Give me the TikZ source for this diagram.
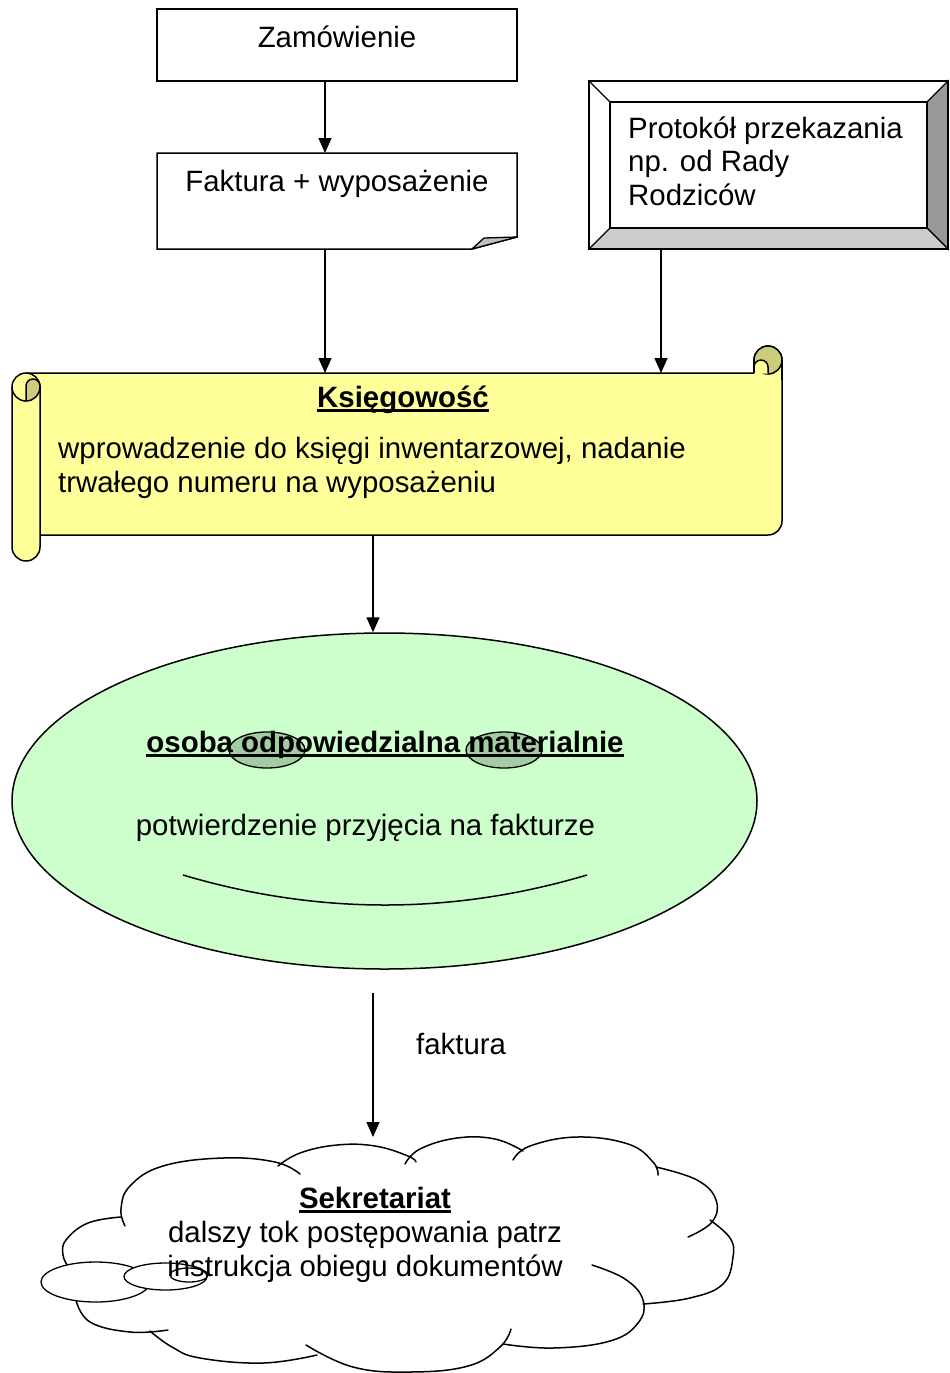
\documentclass[tikz,border=0pt]{standalone}
\usepackage{fontspec}
\setmainfont{Liberation Sans}
\usetikzlibrary{arrows.meta,shapes.geometric}
\definecolor{scrollyel}{HTML}{FFFF99}
\definecolor{scrolldark}{HTML}{CCCC7A}
\definecolor{ovalgreen}{HTML}{CCFFCC}
\definecolor{eyegreen}{HTML}{A3CCA3}
\definecolor{bevdark}{HTML}{999999}
\definecolor{bevlight}{HTML}{CCCCCC}
\definecolor{foldgrey}{HTML}{C0C0C0}
\newcommand{\myul}[1]{\setbox0\hbox{#1}\rlap{\rule[-5pt]{\wd0}{2.8pt}}\box0}
\begin{document}
\begin{tikzpicture}[x=1pt,y=-1pt,
  outl/.style={draw=black, line width=1.5pt},
  thinl/.style={draw=black, line width=1.3pt},
  arr/.style={draw=black, line width=1.4pt, -{Triangle[length=15pt,width=13pt]}},
  txt/.style={font=\fontsize{29.4}{33.5}\selectfont, inner sep=0pt, anchor=base},
  txtl/.style={txt, anchor=base west},
  shapebox/.style={minimum width=#1, inner sep=0pt, outer sep=0pt},
]
\useasboundingbox (0,0) rectangle (950,1373);
\fill[white] (0,0) rectangle (950,1373);

% columns for connectors
\coordinate (c1) at (325,0);
\coordinate (c2) at (661,0);
\coordinate (c3) at (373,0);

% Zamowienie
\node[outl, shapebox=360pt, minimum height=72pt] (zam) at (337,45) {};
\node[txt] (zamt) at (337,47) {Zamówienie};

% Faktura (document shape)
\node[shapebox=360pt, minimum height=96pt] (fak) at (337,201) {};
\draw[outl, line join=miter] (fak.north west) -- (fak.north east) -- ([yshift=12pt]fak.south east)
   -- ([xshift=-45pt]fak.south east) -- (fak.south west) -- cycle;
\draw[thinl, fill=foldgrey, line join=round] ([xshift=-45pt]fak.south east) -- ([xshift=-33pt,yshift=11pt]fak.south east)
   -- ([yshift=12pt]fak.south east) -- cycle;
\node[txt] (fakt) at (337,191) {Faktura + wyposażenie};

% Protokol (bevel)
\node[shapebox=359pt, minimum height=168pt] (prot) at (768.5,165) {};
\coordinate (pinw) at ([shift={(21pt,-21pt)}]prot.north west);
\coordinate (pine) at ([shift={(-21pt,-21pt)}]prot.north east);
\coordinate (pise) at ([shift={(-21pt,21pt)}]prot.south east);
\coordinate (pisw) at ([shift={(21pt,21pt)}]prot.south west);
\draw[thinl, fill=bevdark] (pine) -- (prot.north east) -- (prot.south east) -- (pise) -- cycle;
\draw[thinl, fill=bevlight] (pisw) -- (pise) -- (prot.south east) -- (prot.south west) -- cycle;
\draw[thinl] (prot.north west) -- (pinw);
\draw[thinl] (prot.north west) rectangle (prot.south east);
\draw[thinl] (pinw) rectangle (pise);
\node[txtl] (pt1) at (628,138) {Protokół przekazania};
\node[txtl] (pt2) at (628,171.5) {np. od Rady};
\node[txtl] (pt3) at (628,205) {Rodziców};

% Ksiegowosc (scroll)
\node[shapebox=770pt, minimum height=162pt] (ks) at (397,454) {};
\draw[outl, fill=scrollyel] (26,373) -- (754,373) -- (754,360) arc[start angle=180, end angle=360, radius=14]
   -- (782,521) arc[start angle=0, end angle=90, radius=14] -- (26,535);
% right curl
\draw[outl, fill=scrolldark] (768,360) circle[radius=14];
\fill[scrollyel] (754,373.5) -- (754,366) arc[start angle=180, end angle=360, radius=7] -- (768,373.5) -- cycle;
\draw[outl] (754,360) -- (754,373);
\draw[outl] (754,367) arc[start angle=180, end angle=360, radius=7] -- (768,373);
\draw[outl] (782,360) -- (782,380);
% left roll
\draw[outl, fill=scrollyel] (12,547) -- (12,387) arc[start angle=180, end angle=360, radius=14]
   -- (40,547) arc[start angle=0, end angle=180, radius=14] -- cycle;
\draw[outl, fill=scrolldark] (26,401) -- (26,386) arc[start angle=180, end angle=360, radius=7]
   -- (40,387) arc[start angle=0, end angle=90, radius=14] -- cycle;
\draw[outl] (12,387) arc[start angle=180, end angle=90, radius=14];
\node[txt] (kst) at (403,407) {\bfseries\myul{Księgowość}};
\node[txtl] (ks1) at (58,458) {wprowadzenie do księgi inwentarzowej, nadanie};
\node[txtl] (ks2) at (58,492) {trwałego numeru na wyposażeniu};

% osoba (smiley ellipse)
\node[outl, ellipse, fill=ovalgreen, minimum width=745pt, minimum height=336pt, inner sep=0pt] (osoba) at (384.5,801) {};
\draw[thinl, fill=eyegreen] (267,750) ellipse[x radius=38, y radius=18];
\draw[thinl, fill=eyegreen] (504,750) ellipse[x radius=38, y radius=18];
\draw[outl] (183,875) .. controls (318,915) and (452,915) .. (587,875);
\node[txt] (ost) at (385,752) {\bfseries\myul{osoba odpowiedzialna materialnie}};
\node[txt] (os2) at (365.5,835) {potwierdzenie przyjęcia na fakturze};

% Sekretariat (cloud)
\node[shapebox=700pt, minimum height=236pt] (sek) at (373,1255) {};
\begin{scope}[outl, line cap=round]
\draw plot[smooth, tension=0.7] coordinates {(121,1217) (88,1223) (66,1240) (63,1255) (68,1266)};
\draw plot[smooth, tension=0.7] coordinates {(125,1226) (121,1209) (130,1186) (163,1166) (223,1158) (275,1162) (300,1174)};
\draw plot[smooth, tension=0.7] coordinates {(278,1166) (300,1153) (337,1145) (375,1146) (408,1156) (416,1162)};
\draw plot[smooth, tension=0.7] coordinates {(405,1164) (420,1149) (457,1138) (495,1139) (523,1151)};
\draw plot[smooth, tension=0.7] coordinates {(513,1160) (530,1146) (577,1137) (628,1144) (653,1162) (658,1175)};
\draw plot[smooth, tension=0.7] coordinates {(656,1167) (697,1180) (716,1200) (712,1222) (688,1237)};
\draw plot[smooth, tension=0.7] coordinates {(710,1220) (730,1238) (733,1257) (723,1284) (690,1298) (643,1304)};
\draw plot[smooth, tension=0.7] coordinates {(592,1265) (625,1279) (643,1300) (638,1323) (610,1341) (553,1348) (503,1344)};
\draw plot[smooth, tension=0.7] coordinates {(511,1329) (500,1347) (468,1366) (410,1372) (353,1367) (306,1345)};
\draw plot[smooth, tension=0.7] coordinates {(150,1331) (172,1347) (200,1358) (263,1363) (317,1355)};
\draw plot[smooth, tension=0.7] coordinates {(76,1300) (90,1322) (130,1332) (168,1330)};
\end{scope}
\draw[thinl, fill=white] (95.5,1282) ellipse[x radius=54.5, y radius=20];
\draw[thinl, fill=white] (165.5,1276.5) ellipse[x radius=41.5, y radius=13.5];
\draw[thinl] (189,1275) ellipse[x radius=19, y radius=7];
\node[txt] (sekt) at (375,1208) {\bfseries\myul{Sekretariat}};
\node[txt] (sek1) at (365,1242) {dalszy tok postępowania patrz};
\node[txt] (sek2) at (365,1276) {instrukcja obiegu dokumentów};

% connectors
\draw[arr] (zam.south -| c1) -- (fak.north -| c1);
\draw[arr] (fak.south -| c1) -- (ks.north -| c1);
\draw[arr] (prot.south -| c2) -- (ks.north -| c2);
\draw[arr] (ks.south -| c3) -- (osoba.north -| c3);
\coordinate (fstart) at (373,993);
\draw[arr] (fstart) -- (sek.north -| c3);
\node[txtl] (falab) at (416,1054) {faktura};
\end{tikzpicture}
\end{document}
